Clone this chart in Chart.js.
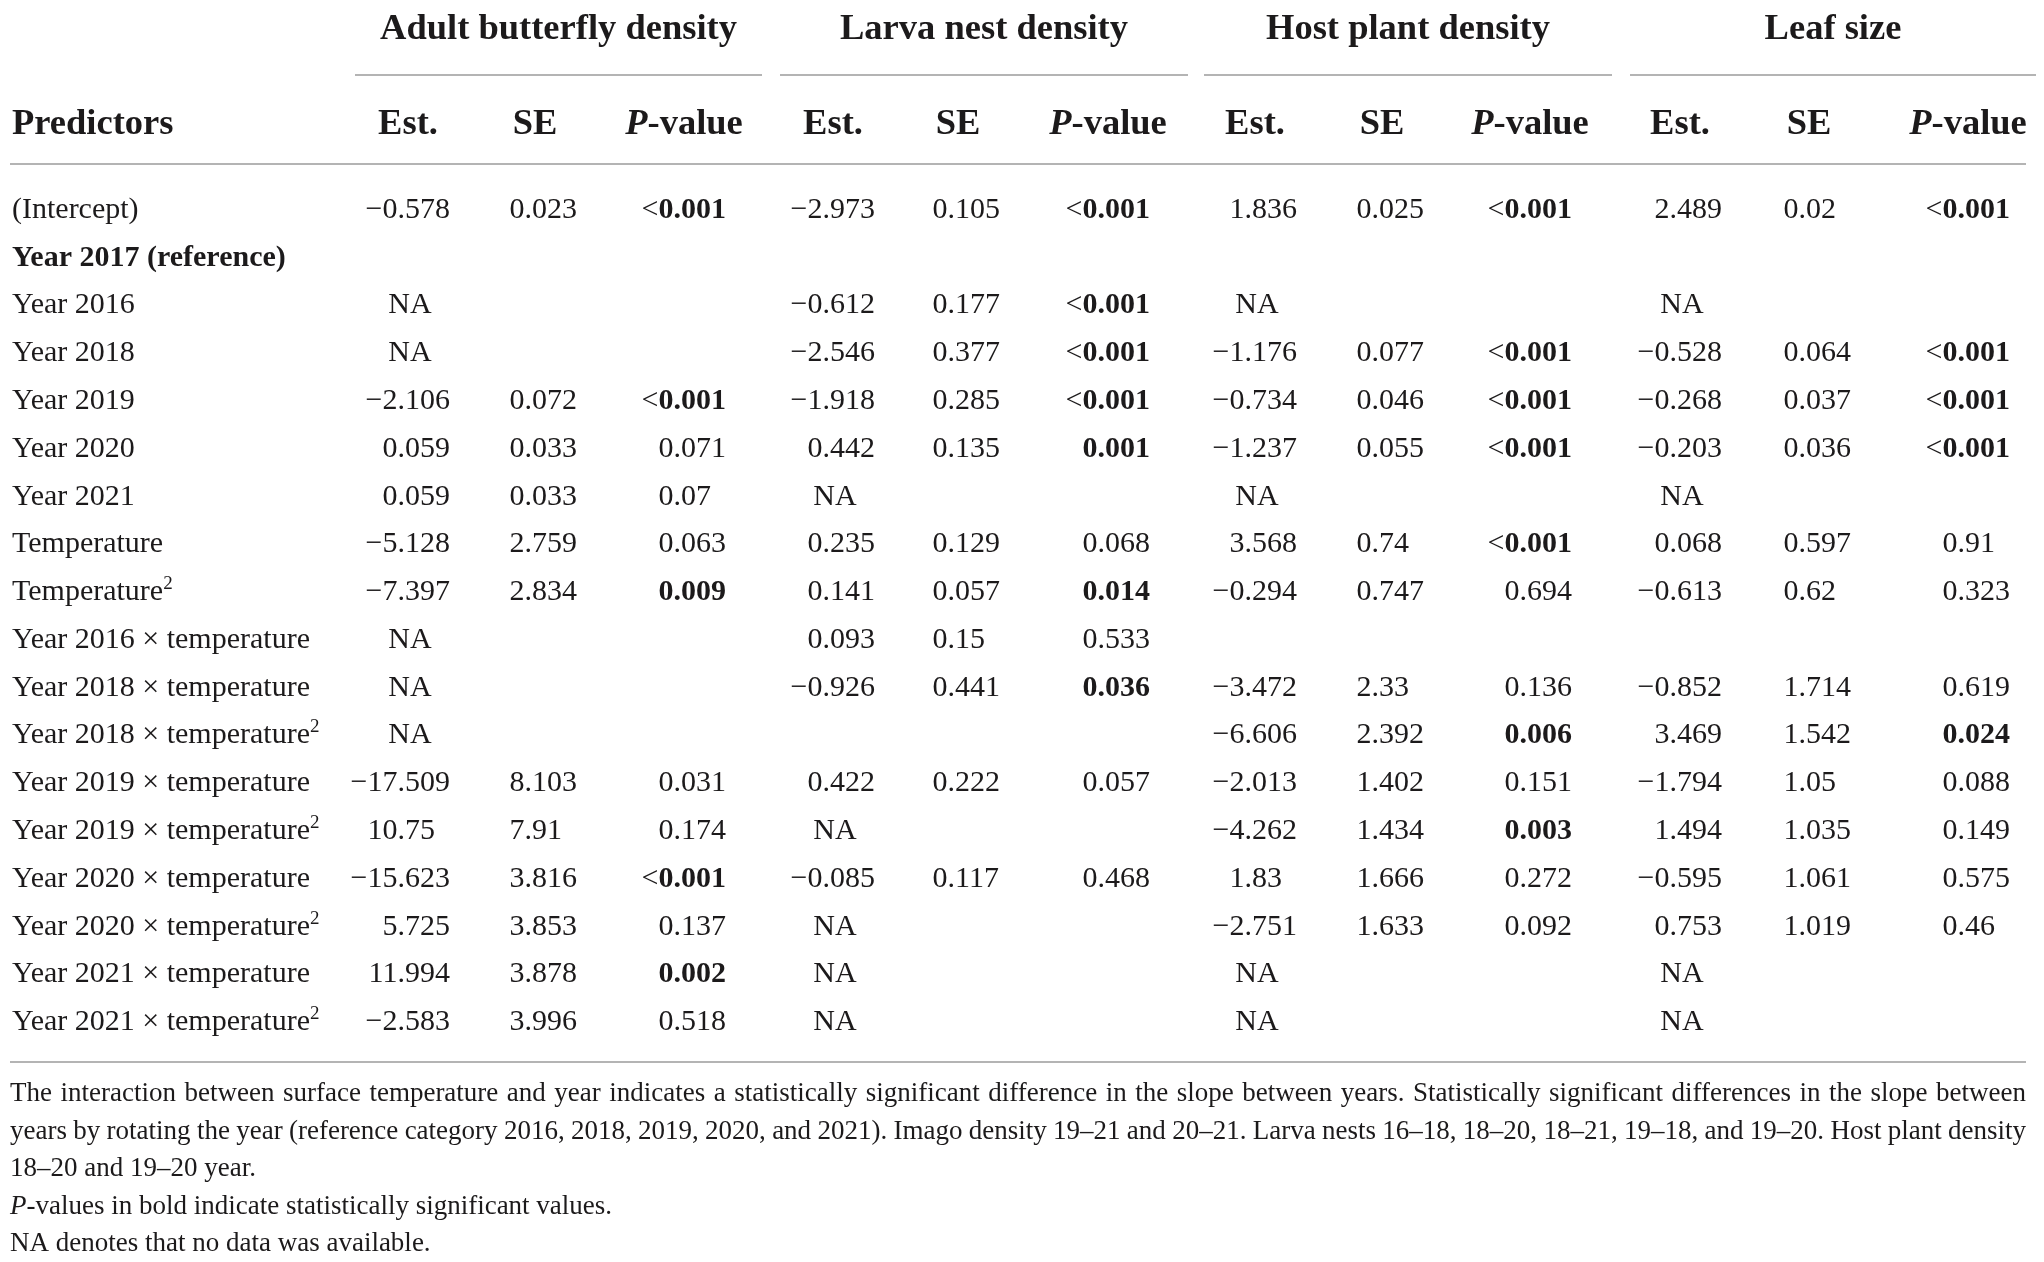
<!DOCTYPE html>
<html>
<head>
<meta charset="utf-8">
<script src="https://cdn.jsdelivr.net/npm/chart.js@4.4.1/dist/chart.umd.min.js"></script>
<style>
html,body{margin:0;padding:0;background:#ffffff;}
#wrap{position:relative;width:2044px;height:1262px;}
</style>
</head>
<body>
<div id="wrap"><canvas id="tbl"></canvas></div>
<script>
// ---------------- DATA ----------------
const groupTitles = ["Adult butterfly density", "Larva nest density", "Host plant density", "Leaf size"];
const columnHeads = ["Est.", "SE", "*P*-value"];
const firstHead = "Predictors";

const predictors = [
  "(Intercept)", "Year 2017 (reference)", "Year 2016", "Year 2018", "Year 2019", "Year 2020", "Year 2021",
  "Temperature", "Temperature²", "Year 2016 × temperature", "Year 2018 × temperature",
  "Year 2018 × temperature²", "Year 2019 × temperature", "Year 2019 × temperature²",
  "Year 2020 × temperature", "Year 2020 × temperature²", "Year 2021 × temperature", "Year 2021 × temperature²"
];
const predictorBold = [0,1,0,0,0,0,0,0,0,0,0,0,0,0,0,0,0,0];

const adultEst = ["−0.578","","NA","NA","−2.106","0.059","0.059","−5.128","−7.397","NA","NA","NA","−17.509","10.75","−15.623","5.725","11.994","−2.583"];
const adultSE  = ["0.023","","","","0.072","0.033","0.033","2.759","2.834","","","","8.103","7.91","3.816","3.853","3.878","3.996"];
const adultP   = ["<0.001","","","","<0.001","0.071","0.07","0.063","0.009","","","","0.031","0.174","<0.001","0.137","0.002","0.518"];
const adultSig = [1,0,0,0,1,0,0,0,1,0,0,0,0,0,1,0,1,0];

const larvaEst = ["−2.973","","−0.612","−2.546","−1.918","0.442","NA","0.235","0.141","0.093","−0.926","","0.422","NA","−0.085","NA","NA","NA"];
const larvaSE  = ["0.105","","0.177","0.377","0.285","0.135","","0.129","0.057","0.15","0.441","","0.222","","0.117","","",""];
const larvaP   = ["<0.001","","<0.001","<0.001","<0.001","0.001","","0.068","0.014","0.533","0.036","","0.057","","0.468","","",""];
const larvaSig = [1,0,1,1,1,1,0,0,1,0,1,0,0,0,0,0,0,0];

const hostEst = ["1.836","","NA","−1.176","−0.734","−1.237","NA","3.568","−0.294","","−3.472","−6.606","−2.013","−4.262","1.83","−2.751","NA","NA"];
const hostSE  = ["0.025","","","0.077","0.046","0.055","","0.74","0.747","","2.33","2.392","1.402","1.434","1.666","1.633","",""];
const hostP   = ["<0.001","","","<0.001","<0.001","<0.001","","<0.001","0.694","","0.136","0.006","0.151","0.003","0.272","0.092","",""];
const hostSig = [1,0,0,1,1,1,0,1,0,0,0,1,0,1,0,0,0,0];

const leafEst = ["2.489","","NA","−0.528","−0.268","−0.203","NA","0.068","−0.613","","−0.852","3.469","−1.794","1.494","−0.595","0.753","NA","NA"];
const leafSE  = ["0.02","","","0.064","0.037","0.036","","0.597","0.62","","1.714","1.542","1.05","1.035","1.061","1.019","",""];
const leafP   = ["<0.001","","","<0.001","<0.001","<0.001","","0.91","0.323","","0.619","0.024","0.088","0.149","0.575","0.46","",""];
const leafSig = [1,0,0,1,1,1,0,0,0,0,0,1,0,0,0,0,0,0];

const footnoteLines = [
  "The interaction between surface temperature and year indicates a statistically significant difference in the slope between years. Statistically significant differences in the slope between",
  "years by rotating the year (reference category 2016, 2018, 2019, 2020, and 2021). Imago density 19–21 and 20–21. Larva nests 16–18, 18–20, 18–21, 19–18, and 19–20. Host plant density",
  "18–20 and 19–20 year.",
  "*P*-values in bold indicate statistically significant values.",
  "NA denotes that no data was available."
];

// ---------------- STYLE / LAYOUT ----------------
const STYLE = {
  family: '"Liberation Serif", "Times New Roman", serif',
  ink: "#1c1a1b",
  rule: "#b4b4b4",
  ruleWidth: 2,
  headSize: 36.5,
  cellSize: 30,
  noteSize: 27,
  labelX: 12,
  anchors: [[405,532,681],[830,955,1105],[1252,1379,1527],[1677,1806,1965]],
  naShift: 5,
  groupRule: [[355,762],[780,1188],[1204,1612],[1630,2036]],
  titleBase: 39, groupRuleY: 75, headBase: 134, headRuleY: 164,
  tableLeft: 10, tableRight: 2026, bottomRuleY: 1062,
  noteBase: [1101, 1139, 1176, 1214, 1251], noteJustify: [1,1,0,0,0],
  padTop: 184, padBottom: 218
};

const groupCols = [
  [adultEst, adultSE, adultP, adultSig],
  [larvaEst, larvaSE, larvaP, larvaSig],
  [hostEst, hostSE, hostP, hostSig],
  [leafEst, leafSE, leafP, leafSig]
];

// ---------------- DATASETS ----------------
const datasets = [];
datasets.push({
  label: firstHead, kind: "label",
  data: predictors.map((p, i) => ({x: STYLE.labelX, y: p, t: p, b: predictorBold[i]}))
});
groupCols.forEach((g, gi) => {
  [0,1,2].forEach(k => {
    const vals = g[k];
    const sig = g[3];
    datasets.push({
      label: groupTitles[gi] + " " + columnHeads[k], kind: "cell",
      data: vals.map((v, i) => v ? {x: STYLE.anchors[gi][k], y: predictors[i], t: v, b: k === 2 ? sig[i] : 0} : null).filter(Boolean)
    });
  });
});
datasets.forEach(d => { d.pointRadius = 0; d.pointHoverRadius = 0; d.showLine = false; });

// ---------------- DRAW HELPERS ----------------
function F(size, bold, italic) {
  return (italic ? "italic " : "normal ") + (bold ? "bold " : "normal ") + size + "px " + STYLE.family;
}
function parseMarkup(str, size, bold) {
  const segs = [];
  str.split("*").forEach((part, i) => { if (part) segs.push({t: part, f: F(size, bold, i % 2 === 1)}); });
  return segs;
}
function measure(ctx, segs) {
  let w = 0;
  segs.forEach(s => { ctx.font = s.f; s.w = ctx.measureText(s.t).width; w += s.w; });
  return w;
}
function drawSegs(ctx, segs, x, y, align) {
  const w = measure(ctx, segs);
  let cx = align === "center" ? x - w / 2 : align === "right" ? x - w : x;
  segs.forEach(s => { ctx.font = s.f; ctx.fillText(s.t, cx, y + (s.dy || 0)); cx += s.w; });
}
function labelSegs(text, size, bold) {
  const segs = [];
  const parts = text.split("²");
  parts.forEach((p, i) => {
    if (p) segs.push({t: p, f: F(size, bold, false)});
    if (i < parts.length - 1) segs.push({t: "2", f: F(Math.round(size * 0.62), bold, false), dy: -Math.round(size * 0.38)});
  });
  return segs;
}
function drawCell(ctx, raw, x, base) {
  const size = STYLE.cellSize;
  const t = raw.t;
  if (t === "NA") { drawSegs(ctx, [{t: "NA", f: F(size, false, false)}], x + STYLE.naShift, base, "center"); return; }
  let prefix = "", num = t;
  if (t[0] === "<") { prefix = "<"; num = t.slice(1); }
  const dot = num.indexOf(".");
  const intPart = dot >= 0 ? num.slice(0, dot + 1) : num;
  const frac = dot >= 0 ? num.slice(dot + 1) : "";
  const left = [];
  if (prefix) left.push({t: prefix, f: F(size, false, false)});
  left.push({t: intPart, f: F(size, !!raw.b, false)});
  drawSegs(ctx, left, x, base, "right");
  if (frac) drawSegs(ctx, [{t: frac, f: F(size, !!raw.b, false)}], x, base, "left");
}
function hRule(ctx, x1, x2, y) {
  ctx.save();
  ctx.strokeStyle = STYLE.rule; ctx.lineWidth = STYLE.ruleWidth;
  ctx.beginPath(); ctx.moveTo(x1, y); ctx.lineTo(x2, y); ctx.stroke();
  ctx.restore();
}
function drawJustified(ctx, str, x1, x2, base, size) {
  const words = str.split(" ");
  ctx.font = F(size, false, false);
  const widths = words.map(w => ctx.measureText(w).width);
  const total = widths.reduce((a, b) => a + b, 0);
  const gap = (x2 - x1 - total) / (words.length - 1);
  let cx = x1;
  words.forEach((w, i) => { ctx.fillText(w, cx, base); cx += widths[i] + gap; });
}

const tablePlugin = {
  id: "tableText",
  afterDatasetsDraw(chart) {
    const ctx = chart.ctx;
    const xs = chart.scales.x;
    ctx.save();
    ctx.fillStyle = STYLE.ink;
    ctx.textBaseline = "alphabetic";
    ctx.textAlign = "left";

    // group titles and their rules
    groupTitles.forEach((g, gi) => {
      const a = xs.getPixelForValue(STYLE.groupRule[gi][0]);
      const b = xs.getPixelForValue(STYLE.groupRule[gi][1]);
      drawSegs(ctx, [{t: g, f: F(STYLE.headSize, true, false)}], (a + b) / 2, STYLE.titleBase, "center");
      hRule(ctx, a, b, STYLE.groupRuleY);
    });
    // column heads
    drawSegs(ctx, [{t: firstHead, f: F(STYLE.headSize, true, false)}], xs.getPixelForValue(STYLE.labelX), STYLE.headBase, "left");
    STYLE.anchors.forEach(arr => arr.forEach((ax, k) => {
      drawSegs(ctx, parseMarkup(columnHeads[k], STYLE.headSize, true), xs.getPixelForValue(ax + 3), STYLE.headBase, "center");
    }));
    hRule(ctx, xs.getPixelForValue(STYLE.tableLeft), xs.getPixelForValue(STYLE.tableRight), STYLE.headRuleY);

    // body cells
    const off = Math.round(STYLE.cellSize * 0.33);
    chart.data.datasets.forEach((ds, di) => {
      const meta = chart.getDatasetMeta(di);
      meta.data.forEach((el, j) => {
        const raw = ds.data[j];
        const base = el.y + off;
        if (ds.kind === "label") drawSegs(ctx, labelSegs(raw.t, STYLE.cellSize, !!raw.b), el.x, base, "left");
        else drawCell(ctx, raw, el.x, base);
      });
    });

    hRule(ctx, xs.getPixelForValue(STYLE.tableLeft), xs.getPixelForValue(STYLE.tableRight), STYLE.bottomRuleY);

    // footnotes
    footnoteLines.forEach((line, i) => {
      const x1 = xs.getPixelForValue(STYLE.tableLeft), x2 = xs.getPixelForValue(STYLE.tableRight);
      if (STYLE.noteJustify[i]) drawJustified(ctx, line, x1, x2, STYLE.noteBase[i], STYLE.noteSize);
      else drawSegs(ctx, parseMarkup(line, STYLE.noteSize, false), x1, STYLE.noteBase[i], "left");
    });
    ctx.restore();
  }
};

new Chart(document.getElementById("tbl"), {
  type: "scatter",
  data: { datasets },
  options: {
    responsive: true,
    maintainAspectRatio: false,
    animation: false,
    events: [],
    layout: { padding: { top: STYLE.padTop, bottom: STYLE.padBottom, left: 0, right: 0 } },
    plugins: { legend: { display: false }, tooltip: { enabled: false } },
    scales: {
      x: { type: "linear", min: 0, max: 2044, display: false },
      y: { type: "category", labels: predictors, offset: true, display: false }
    }
  },
  plugins: [tablePlugin]
});
</script>
</body>
</html>
